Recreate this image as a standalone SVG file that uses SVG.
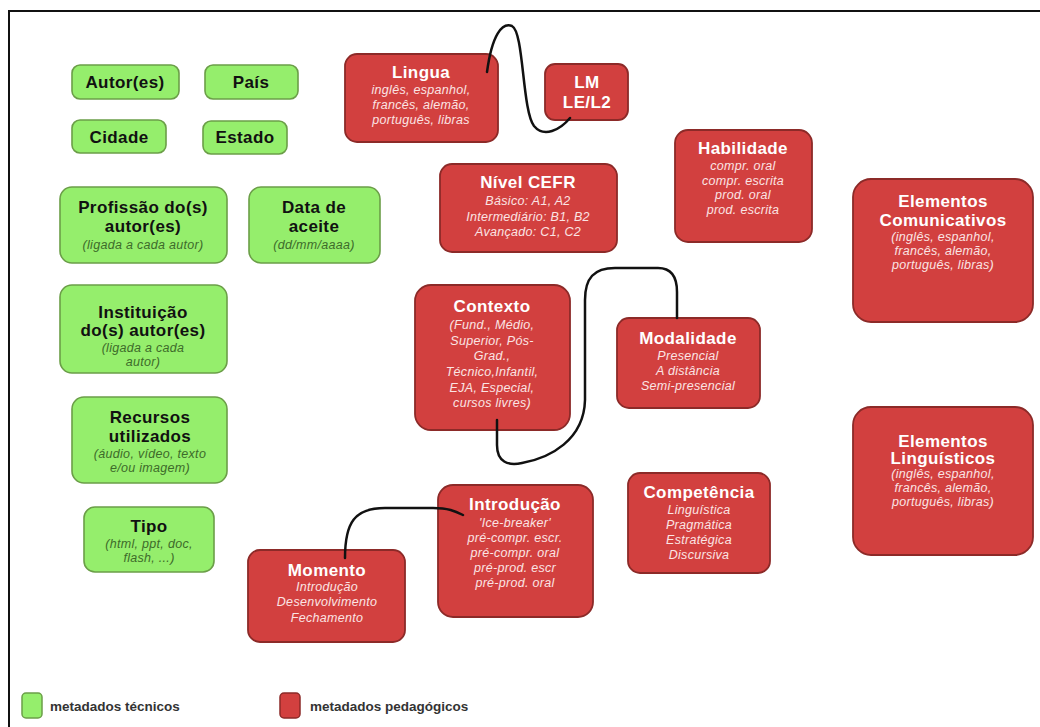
<svg xmlns="http://www.w3.org/2000/svg" width="1040" height="727" viewBox="0 0 1040 727">
<style>
text{font-family:"Liberation Sans",Arial,sans-serif;text-anchor:middle}
.g rect{fill:#95ee6c;stroke:#6b9e48;stroke-width:1.6}
.r rect{fill:#d2403f;stroke:#8c2a28;stroke-width:1.8}
.g .t{font-weight:bold;font-size:17px;fill:#111;letter-spacing:0.4px}
.g .s{font-style:italic;font-size:12.5px;fill:#3d6b2a;letter-spacing:0.3px}
.r .t{font-weight:bold;font-size:17px;fill:#fff;letter-spacing:0.4px}
.r .s{font-style:italic;font-size:12.5px;fill:#fbe4e4;letter-spacing:0.3px}
.c path{fill:none;stroke:#111;stroke-width:2.5;stroke-linecap:round}
.lg{font-weight:bold;font-size:13.5px;fill:#333;text-anchor:start}
</style>
<rect width="1040" height="727" fill="#fff"/>
<path d="M8,11 H1040 M9,11 V727" stroke="#111" stroke-width="2" fill="none"/>

<g id="autores" class="g"><rect x="72" y="65" width="107" height="34" rx="8"/><text class="t" x="125" y="88">Autor(es)</text></g>
<g id="pais" class="g"><rect x="205" y="65" width="93" height="34" rx="8"/><text class="t" x="251" y="88">País</text></g>
<g id="cidade" class="g"><rect x="72" y="120" width="94" height="33" rx="8"/><text class="t" x="119" y="143">Cidade</text></g>
<g id="estado" class="g"><rect x="203" y="121" width="84" height="33" rx="8"/><text class="t" x="245" y="143">Estado</text></g>
<g id="profissao" class="g"><rect x="60" y="187" width="167" height="76" rx="12"/><text class="t" x="143" y="213">Profissão do(s)</text><text class="t" x="143" y="232">autor(es)</text><text class="s" x="143" y="249">(ligada a cada autor)</text></g>
<g id="data" class="g"><rect x="249" y="187" width="131" height="76" rx="12"/><text class="t" x="314" y="213">Data de</text><text class="t" x="314" y="232">aceite</text><text class="s" x="314" y="249">(dd/mm/aaaa)</text></g>
<g id="instituicao" class="g"><rect x="60" y="285" width="167" height="88" rx="12"/><text class="t" x="143" y="318">Instituição</text><text class="t" x="143" y="336">do(s) autor(es)</text><text class="s" x="143" y="352">(ligada a cada</text><text class="s" x="143" y="366">autor)</text></g>
<g id="recursos" class="g"><rect x="72" y="397" width="155" height="86" rx="12"/><text class="t" x="150" y="423">Recursos</text><text class="t" x="150" y="442">utilizados</text><text class="s" x="150" y="458">(áudio, vídeo, texto</text><text class="s" x="150" y="472">e/ou imagem)</text></g>
<g id="tipo" class="g"><rect x="84" y="507" width="130" height="65" rx="11"/><text class="t" x="149" y="532">Tipo</text><text class="s" x="149" y="548">(html, ppt, doc,</text><text class="s" x="149" y="562">flash, ...)</text></g>

<g id="lingua" class="r"><rect x="345" y="54" width="153" height="88" rx="12"/><text class="t" x="421" y="78">Lingua</text><text class="s" x="421" y="94">inglês, espanhol,</text><text class="s" x="421" y="109">francês, alemão,</text><text class="s" x="421" y="124">português, libras</text></g>
<g id="lm" class="r"><rect x="545" y="64" width="83" height="56" rx="10"/><text class="t" x="587" y="88">LM</text><text class="t" x="587" y="108">LE/L2</text></g>
<g id="nivel" class="r"><rect x="440" y="164" width="177" height="88" rx="12"/><text class="t" x="528" y="188">Nível CEFR</text><text class="s" x="528" y="205">Básico: A1, A2</text><text class="s" x="528" y="221">Intermediário: B1, B2</text><text class="s" x="528" y="236">Avançado: C1, C2</text></g>
<g id="habilidade" class="r"><rect x="675" y="130" width="137" height="112" rx="13"/><text class="t" x="743" y="154">Habilidade</text><text class="s" x="743" y="170">compr. oral</text><text class="s" x="743" y="185">compr. escrita</text><text class="s" x="743" y="199">prod. oral</text><text class="s" x="743" y="214">prod. escrita</text></g>
<g id="comunicativos" class="r"><rect x="853" y="179" width="180" height="143" rx="18"/><text class="t" x="943" y="207">Elementos</text><text class="t" x="943" y="226">Comunicativos</text><text class="s" x="943" y="241">(inglês, espanhol,</text><text class="s" x="943" y="255">francês, alemão,</text><text class="s" x="943" y="269">português, libras)</text></g>
<g id="contexto" class="r"><rect x="415" y="285" width="155" height="145" rx="16"/><text class="t" x="492" y="312">Contexto</text><text class="s" x="492" y="329">(Fund., Médio,</text><text class="s" x="492" y="345">Superior, Pós-</text><text class="s" x="492" y="360">Grad.,</text><text class="s" x="492" y="376">Técnico,Infantil,</text><text class="s" x="492" y="392">EJA, Especial,</text><text class="s" x="492" y="407">cursos livres)</text></g>
<g id="modalidade" class="r"><rect x="617" y="318" width="143" height="90" rx="12"/><text class="t" x="688" y="344">Modalidade</text><text class="s" x="688" y="360">Presencial</text><text class="s" x="688" y="375">A distância</text><text class="s" x="688" y="390">Semi-presencial</text></g>
<g id="linguisticos" class="r"><rect x="853" y="407" width="180" height="148" rx="18"/><text class="t" x="943" y="447">Elementos</text><text class="t" x="943" y="464">Linguísticos</text><text class="s" x="943" y="478">(inglês, espanhol,</text><text class="s" x="943" y="492">francês, alemão,</text><text class="s" x="943" y="506">português, libras)</text></g>
<g id="competencia" class="r"><rect x="628" y="473" width="142" height="100" rx="12"/><text class="t" x="699" y="498">Competência</text><text class="s" x="699" y="514">Linguística</text><text class="s" x="699" y="529">Pragmática</text><text class="s" x="699" y="544">Estratégica</text><text class="s" x="699" y="559">Discursiva</text></g>
<g id="introducao" class="r"><rect x="438" y="485" width="155" height="132" rx="15"/><text class="t" x="515" y="510">Introdução</text><text class="s" x="515" y="527">'Ice-breaker'</text><text class="s" x="515" y="542">pré-compr. escr.</text><text class="s" x="515" y="557">pré-compr. oral</text><text class="s" x="515" y="572">pré-prod. escr</text><text class="s" x="515" y="587">pré-prod. oral</text></g>
<g id="momento" class="r"><rect x="248" y="550" width="157" height="92" rx="12"/><text class="t" x="327" y="576">Momento</text><text class="s" x="327" y="591">Introdução</text><text class="s" x="327" y="606">Desenvolvimento</text><text class="s" x="327" y="622">Fechamento</text></g>

<g id="connectors" class="c">
<path d="M487,72 C492,35 502,22 512,26 C524,32 522,110 534,126 C544,138 560,130 570,118"/>
<path d="M497,420 L497,445 C497,462 508,466 522,463 C550,458 584,440 585,400 L585,300 C585,278 594,268 615,268 L658,268 C672,268 677,278 677,292 L677,318"/>
<path d="M345,558 C345,522 355,508 385,508 L433,508 C448,508 455,511 463,515"/>
</g>

<g id="legend">
<rect x="22" y="693" width="20" height="25" rx="4" fill="#95ee6c" stroke="#6b9e48" stroke-width="1.5"/>
<text class="lg" x="50" y="711">metadados técnicos</text>
<rect x="280" y="693" width="20" height="25" rx="4" fill="#d2403f" stroke="#8c2a28" stroke-width="1.5"/>
<text class="lg" x="310" y="711">metadados pedagógicos</text>
</g>
</svg>
